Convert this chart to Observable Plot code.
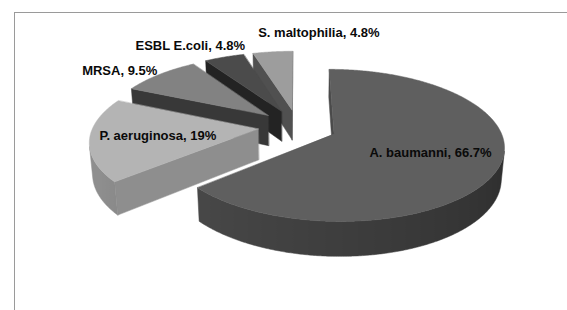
<!DOCTYPE html>
<html><head><meta charset="utf-8">
<script src="https://cdn.jsdelivr.net/npm/d3@7"></script>
<script src="https://cdn.jsdelivr.net/npm/@observablehq/plot@0.6"></script>
<style>
html,body{margin:0;padding:0;background:#fff;}
#wrap{position:relative;width:567px;height:310px;overflow:hidden;}
#frame{position:absolute;left:14px;top:12px;right:-5px;bottom:-5px;border-top:1px solid #9a9a9a;border-left:1px solid #9a9a9a;}
#chart{position:absolute;left:0;top:0;}
</style></head><body>
<div id="wrap"><div id="frame"></div><div id="chart"></div></div>
<script>
// ---- data ----
const labels = ["A. baumanni", "P. aeruginosa", "MRSA", "ESBL E.coli", "S. maltophilia"];
const values = [66.7, 19, 9.5, 4.8, 4.8];
const valueText = ["66.7%", "19%", "9.5%", "4.8%", "4.8%"];
const topColors = ["#5f5f5f", "#b4b4b4", "#828282", "#4b4b4b", "#9d9d9d"];
const sideColors = ["#4a4a4a", "#8e8e8e", "#383838", "#232323", "#505050"];

// ---- view (3D perspective pie) ----
const W = 567, H = 310;
const tilt = 25.9 * Math.PI / 180, sinA = Math.sin(tilt), cosA = Math.cos(tilt);
const D = 6, F = 990, thick = 0.21, explode = 0.24;
const cx = 297, cy = 126;
const C = [0, D * sinA, D * cosA];

function proj([X, Y, Z]) {
  const dep = D - Y * sinA - Z * cosA;
  return {x: X / dep, y: (Z * sinA - Y * cosA) / dep, dep};
}
function visible(n, pts) {
  const c = [0, 1, 2].map(k => d3.mean(pts, p => p[k]));
  return n[0] * (C[0] - c[0]) + n[1] * (C[1] - c[1]) + n[2] * (C[2] - c[2]) > 1e-9;
}
function shade(col, amt) { return d3.interpolateRgb(col, "#000")(amt); }

const pie = d3.pie().sort(null).value(d => d)(values);
const slices = pie.map((p, i) => {
  const mid = (p.startAngle + p.endAngle) / 2;
  return {i, a0: p.startAngle, a1: p.endAngle, mid, o: [explode * Math.sin(mid), -explode * Math.cos(mid)]};
});
const order = [...slices].sort((a, b) => a.o[1] - b.o[1]);

const faces = [];
const gradients = [];
let fid = 0;
function addFace(pts, color) {
  const k = fid++;
  for (const p of pts) { const q = proj(p); faces.push({key: k, x: q.x, y: q.y, color}); }
}
for (const s of order) {
  const O = s.o;
  const top = (r, t) => [O[0] + r * Math.sin(t), 0, O[1] - r * Math.cos(t)];
  const bot = (r, t) => [O[0] + r * Math.sin(t), -thick, O[1] - r * Math.cos(t)];
  const steps = Math.max(2, Math.ceil((s.a1 - s.a0) / (Math.PI / 360)));
  const th = d3.range(steps + 1).map(j => s.a0 + (s.a1 - s.a0) * j / steps);
  const side = [];
  for (const [a, na] of [[s.a0, s.a0 - Math.PI / 2], [s.a1, s.a1 + Math.PI / 2]]) {
    const pts = [top(0, a), top(1, a), bot(1, a), bot(0, a)];
    if (visible([Math.sin(na), 0, -Math.cos(na)], pts)) {
      side.push({pts, color: sideColors[s.i], dep: d3.mean(pts, p => proj(p).dep)});
    }
  }
  // outer curved wall: one band with a horizontal shading gradient
  const vis = [];
  for (let j = 0; j < steps; j++) {
    const tm = (th[j] + th[j + 1]) / 2;
    const pts = [top(1, th[j]), top(1, th[j + 1]), bot(1, th[j + 1]), bot(1, th[j])];
    if (visible([Math.sin(tm), 0, -Math.cos(tm)], pts)) vis.push(j);
  }
  if (vis.length) {
    const js = d3.range(d3.min(vis), d3.max(vis) + 2);
    const band = [...js.map(j => top(1, th[j])), ...js.slice().reverse().map(j => bot(1, th[j]))];
    const xs = js.map(j => proj(top(1, th[j])).x);
    const x0 = d3.min(xs), x1 = d3.max(xs);
    const stops = js.map((j, k) => {
      const f = Math.max(0, Math.min(1, (th[j] - Math.PI / 2) / (150 * Math.PI / 180)));
      return {offset: (xs[k] - x0) / (x1 - x0 || 1), color: shade(sideColors[s.i], 0.42 * (1 - f))};
    }).sort((a, b) => a.offset - b.offset);
    const id = `wall${s.i}`;
    gradients.push({id, stops});
    side.push({pts: band, color: `url(#${id})`, dep: d3.mean(band, p => proj(p).dep)});
  }
  side.sort((a, b) => b.dep - a.dep);
  for (const f of side) addFace(f.pts, f.color);
  addFace([top(0, 0), ...th.map(t => top(1, t))], topColors[s.i]);
}

// ---- labels ----
const fontSize = 13;
const font = `bold ${fontSize}px "Liberation Sans", Arial, sans-serif`;
const ctx = document.createElement("canvas").getContext("2d");
ctx.font = font;
const total = d3.sum(values);
const center = proj([0, 0, 0]);
const toPx = q => [cx + F * q.x, cy + F * q.y];
const placed = [];
const labelData = slices.map(s => {
  const text = `${labels[s.i]}, ${valueText[s.i]}`;
  const w = ctx.measureText(text).width, h = fontSize;
  const inside = values[s.i] / total > 0.15;
  let px, py;
  if (inside) {
    [px, py] = toPx(proj([s.o[0] + 0.6 * Math.sin(s.mid), 0, s.o[1] - 0.6 * Math.cos(s.mid)]));
  } else {
    const [ax, ay] = toPx(proj([s.o[0] + Math.sin(s.mid), 0, s.o[1] - Math.cos(s.mid)]));
    const [ox, oy] = toPx(center);
    const len = Math.hypot(ax - ox, ay - oy), dx = (ax - ox) / len, dy = (ay - oy) / len;
    const g = 7;
    px = ax + dx * Math.abs(dx) * (w / 2) + dx * g;
    py = ay + dy * (h / 2) + dy * Math.abs(dy) * 14;
    for (const b of placed) {
      if (Math.abs(py - b.y) < (h + b.h) / 2 && Math.abs(px - b.x) < (w + b.w) / 2) {
        if (px >= b.x) px = b.x + (b.w + w) / 2 + 13; else px = b.x - (b.w + w) / 2 - 13;
      }
    }
    placed.push({x: px, y: py, w, h});
  }
  return {text, x: (px - cx) / F, y: (py - cy) / F};
});

const chart = Plot.plot({
  width: W, height: H,
  margin: 0,
  x: {domain: [-cx / F, (W - cx) / F], range: [0, W], axis: null},
  y: {domain: [-cy / F, (H - cy) / F], range: [0, H], axis: null},
  color: {type: "identity"},
  style: {background: "transparent", fontFamily: '"Liberation Sans", Arial, sans-serif'},
  marks: [
    Plot.line(faces, {x: "x", y: "y", z: "key", fill: "color", stroke: "color", strokeWidth: 0.5, curve: "linear-closed"}),
    Plot.text(labelData, {x: "x", y: "y", text: "text", fontSize, fontWeight: "bold", fill: "#0a0a0a", textAnchor: "middle", lineAnchor: "middle"})
  ]
});
const defs = d3.select(chart).insert("defs", ":first-child");
for (const g of gradients) {
  const lg = defs.append("linearGradient").attr("id", g.id).attr("x1", 0).attr("x2", 1).attr("y1", 0).attr("y2", 0);
  for (const st of g.stops) lg.append("stop").attr("offset", st.offset).attr("stop-color", st.color);
}
document.getElementById("chart").appendChild(chart);
</script>
</body></html>
